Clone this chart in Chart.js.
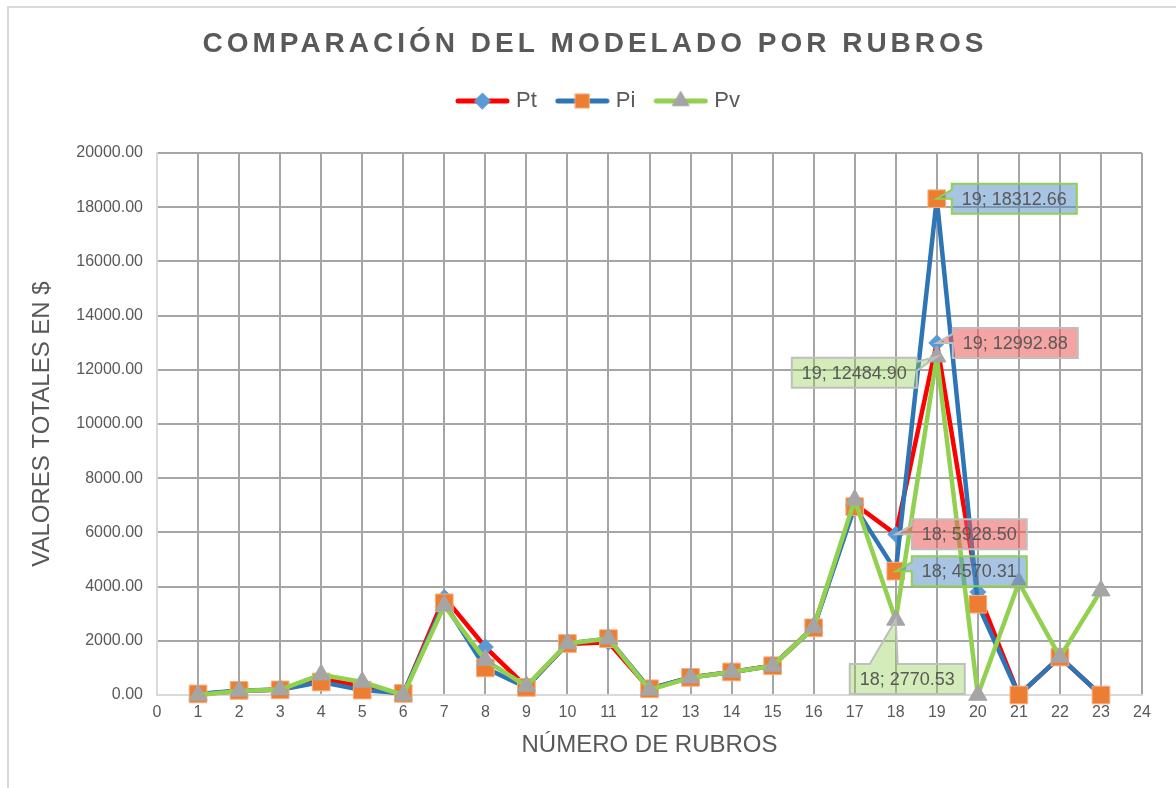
<!DOCTYPE html>
<html>
<head>
<meta charset="utf-8">
<script src="https://cdn.jsdelivr.net/npm/chart.js@4.4.1/dist/chart.umd.min.js"></script>
<style>
  html, body { margin: 0; padding: 0; background: #ffffff; overflow: hidden; }
  #wrap { position: relative; width: 1176px; height: 788px; }
  #frame { position: absolute; left: 7px; top: 6px; width: 1220px; height: 820px;
           border: 2px solid #d9d9d9; box-sizing: border-box; }
  #c { position: absolute; left: 0; top: 0; }
</style>
</head>
<body>
<div id="wrap">
  <div id="frame"></div>
  <canvas id="c" width="1176" height="788"></canvas>
</div>
<script>
// Rubros (x values) and the three modelled totals per rubro
const rubros = [1, 2, 3, 4, 5, 6, 7, 8, 9, 10, 11, 12, 13, 14, 15, 16, 17, 18, 19, 20, 21, 22, 23];
const pt = [30, 150, 200, 600, 320, 20, 3600, 1770, 300, 1880, 1950, 220, 650, 850, 1080, 2500, 7050, 5928.50, 12992.88, 3800, 0, 1400, 0];
const pi = [40, 170, 190, 480, 180, 60, 3400, 1000, 280, 1900, 2080, 230, 650, 850, 1080, 2480, 6950, 4570.31, 18312.66, 3350, 0, 1400, 0];
const pv = [0, 150, 200, 750, 480, 0, 3300, 1290, 330, 1900, 2080, 190, 640, 850, 1070, 2500, 7200, 2770.53, 12484.90, 0, 4150, 1400, 3850];
const seriesNames = ['Pt', 'Pi', 'Pv'];

// Axis ranges / tick steps
const xRange = [0, 24];
const yRange = [0, 20000];
const yStep = 2000;

const chartTitle = 'COMPARACIÓN DEL MODELADO POR RUBROS';
const yTitle = 'VALORES TOTALES EN $';
const xTitle = 'NÚMERO DE RUBROS';

const FONT = '"Liberation Sans", Arial, sans-serif';
const TEXT = '#595959';
const SERIES = [pt, pi, pv];

const styles = [
  { line: '#ff0000', marker: 'rectRot', radius: 8, fill: '#5b9bd5', edge: '#5b9bd5', legendRadius: 8 },
  { line: '#2e75b6', marker: 'rect', radius: 12.5, fill: '#ed7d31', edge: '#f4b183', legendRadius: 10 },
  { line: '#92d050', marker: 'triangle', radius: 10.5, fill: '#a5a5a5', edge: '#a5a5a5', legendRadius: 9.5 }
];

// Legend icon: a short line with the series marker in its middle
function legendIcon(st) {
  const cv = document.createElement('canvas');
  cv.width = 55; cv.height = 24;
  const g = cv.getContext('2d');
  g.strokeStyle = st.line; g.lineWidth = 5; g.lineCap = 'round';
  g.beginPath(); g.moveTo(3, 12); g.lineTo(52, 12); g.stroke();
  g.fillStyle = st.fill; g.strokeStyle = st.edge; g.lineWidth = 1;
  Chart.helpers.drawPoint(g, { pointStyle: st.marker, radius: st.legendRadius, rotation: 0, borderWidth: 1 }, 27.5, 12);
  return cv;
}

const datasets = SERIES.map((vals, k) => ({
  label: seriesNames[k],
  data: rubros.map((r, i) => ({ x: r, y: vals[i] })),
  xAxisID: 'x',
  yAxisID: 'y',
  borderColor: styles[k].line,
  backgroundColor: styles[k].fill,
  borderWidth: 4.5,
  borderJoinStyle: 'round',
  borderCapStyle: 'round',
  pointStyle: styles[k].marker,
  pointRadius: styles[k].radius,
  pointHoverRadius: styles[k].radius,
  pointBackgroundColor: styles[k].fill,
  pointBorderColor: styles[k].edge,
  pointBorderWidth: 1,
  tension: 0,
  clip: false,
  order: 3 - k
}));

// Heading drawn with letter spacing
const headingPlugin = {
  id: 'heading',
  afterDraw(chart) {
    const ctx = chart.ctx;
    ctx.save();
    ctx.font = 'bold 28px ' + FONT;
    ctx.fillStyle = TEXT;
    ctx.textAlign = 'center';
    ctx.textBaseline = 'middle';
    try { ctx.letterSpacing = '4px'; } catch (e) {}
    ctx.fillText(chartTitle, 595, 44);
    ctx.restore();
  }
};

// Value callouts ("rubro; value") with a pointer to the marker
const calloutPlugin = {
  id: 'callouts',
  afterDatasetsDraw(chart, args, opts) {
    const ctx = chart.ctx;
    ctx.save();
    ctx.font = '18px ' + FONT;
    opts.items.forEach(it => {
      const el = chart.getDatasetMeta(it.dataset).data[it.index];
      const px = el.x, py = el.y;
      const text = rubros[it.index] + '; ' + SERIES[it.dataset][it.index].toFixed(2);
      const w = Math.round(ctx.measureText(text).width + 20);
      const h = 30;
      const left = it.align === 'right' ? px + it.dx - w : px + it.dx;
      const top = py + it.dy;
      const right = left + w, bottom = top + h;
      ctx.beginPath();
      if (it.edge === 'left') {
        ctx.moveTo(left, top); ctx.lineTo(right, top); ctx.lineTo(right, bottom); ctx.lineTo(left, bottom);
        ctx.lineTo(left, top + 15); ctx.lineTo(px, py); ctx.lineTo(left, top + 6);
      } else if (it.edge === 'right') {
        ctx.moveTo(left, top); ctx.lineTo(right, top); ctx.lineTo(right, top + 4); ctx.lineTo(px, py);
        ctx.lineTo(right, top + 13); ctx.lineTo(right, bottom); ctx.lineTo(left, bottom);
      } else {
        ctx.moveTo(left, top); ctx.lineTo(left + 20, top); ctx.lineTo(px, py); ctx.lineTo(left + 48, top);
        ctx.lineTo(right, top); ctx.lineTo(right, bottom); ctx.lineTo(left, bottom);
      }
      ctx.closePath();
      ctx.fillStyle = it.fill;
      ctx.fill();
      ctx.lineWidth = 2;
      ctx.strokeStyle = it.stroke;
      ctx.stroke();
      ctx.fillStyle = TEXT;
      ctx.textAlign = 'center';
      ctx.textBaseline = 'middle';
      ctx.fillText(text, left + w / 2, top + h / 2 + 1);
    });
    ctx.restore();
  }
};

const PINK = 'rgba(237, 90, 90, 0.55)';
const BLUE = 'rgba(80, 140, 200, 0.5)';
const GREEN = 'rgba(146, 208, 80, 0.4)';
const GREY_EDGE = '#bfbfbf';
const GREEN_EDGE = '#92d050';

new Chart(document.getElementById('c'), {
  type: 'line',
  data: { datasets },
  plugins: [headingPlugin, calloutPlugin],
  options: {
    responsive: false,
    animation: false,
    devicePixelRatio: 1,
    layout: { padding: { top: 67, left: 58, right: 34, bottom: 0 } },
    plugins: {
      title: { display: false },
      tooltip: { enabled: false },
      legend: {
        position: 'top',
        labels: {
          usePointStyle: true,
          pointStyleWidth: 45,
          padding: 23,
          color: TEXT,
          font: { size: 22, family: FONT },
          generateLabels: (chart) => chart.data.datasets.map((ds, i) => ({
            text: ds.label,
            fillStyle: 'transparent',
            strokeStyle: 'transparent',
            lineWidth: 0,
            pointStyle: legendIcon(styles[i]),
            hidden: false,
            datasetIndex: i,
            fontColor: TEXT
          }))
        }
      },
      callouts: {
        items: [
          { dataset: 1, index: 18, dx: 15, dy: -15, edge: 'left', fill: BLUE, stroke: GREEN_EDGE },
          { dataset: 0, index: 18, dx: 16, dy: -15, edge: 'left', fill: PINK, stroke: GREY_EDGE },
          { dataset: 2, index: 18, dx: -20, dy: 1, align: 'right', edge: 'right', fill: GREEN, stroke: GREY_EDGE },
          { dataset: 0, index: 17, dx: 16, dy: -15, edge: 'left', fill: PINK, stroke: GREY_EDGE },
          { dataset: 1, index: 17, dx: 16, dy: -15, edge: 'left', fill: BLUE, stroke: GREEN_EDGE },
          { dataset: 2, index: 17, dx: -46, dy: 44, edge: 'top', fill: GREEN, stroke: GREY_EDGE }
        ]
      }
    },
    scales: {
      x: {
        type: 'linear',
        position: 'bottom',
        min: xRange[0],
        max: xRange[1],
        afterFit(s) { s.height = 93; },
        ticks: { stepSize: 1, autoSkip: false, maxRotation: 0, color: TEXT, padding: 8,
                 font: { size: 16, family: FONT } },
        grid: { color: '#a6a6a6', lineWidth: 2, drawTicks: false },
        border: { color: '#d9d9d9', width: 2 },
        title: { display: true, text: xTitle, color: TEXT, font: { size: 24, family: FONT },
                 padding: { top: 0, bottom: 28 } }
      },
      gap: {
        type: 'linear',
        position: 'top',
        display: true,
        afterFit(s) { s.height = 31; },
        ticks: { display: false },
        grid: { display: false, drawTicks: false },
        border: { display: false }
      },
      y: {
        type: 'linear',
        position: 'left',
        min: yRange[0],
        max: yRange[1],
        afterFit(s) { s.width = 99; },
        ticks: { stepSize: yStep, color: TEXT, padding: 14, font: { size: 16, family: FONT },
                 callback: (v) => Number(v).toFixed(2) },
        grid: { color: '#a6a6a6', lineWidth: 2, drawTicks: false },
        border: { color: '#d9d9d9', width: 2 },
        title: { display: true, text: yTitle, color: TEXT, font: { size: 24, family: FONT },
                 padding: { top: -30.5, bottom: 0 } }
      }
    }
  }
});
</script>
</body>
</html>
